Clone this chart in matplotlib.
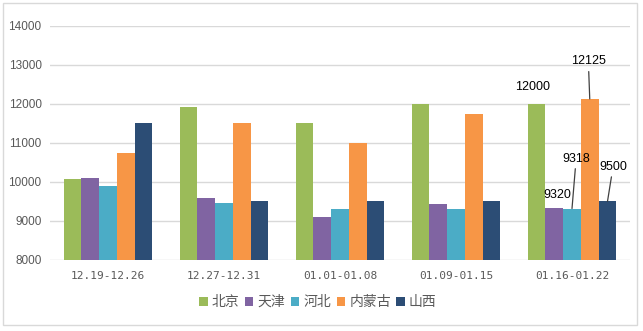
import matplotlib

matplotlib.use("Agg")
import matplotlib.pyplot as plt
import numpy as np
from matplotlib.patches import Patch, Rectangle

plt.rcParams["font.family"] = ["Noto Sans CJK SC", "DejaVu Sans"]

periods = ["12.19-12.26", "12.27-12.31", "01.01-01.08", "01.09-01.15", "01.16-01.22"]
regions = ["北京", "天津", "河北", "内蒙古", "山西"]
beijing = [10070, 11920, 11500, 12000, 12000]
tianjin = [10100, 9580, 9100, 9430, 9320]
hebei = [9900, 9450, 9300, 9310, 9318]
neimenggu = [10750, 11500, 11000, 11750, 12125]
shanxi = [11500, 9500, 9500, 9500, 9500]
series = [beijing, tianjin, hebei, neimenggu, shanxi]
colors = ["#9BBB59", "#8064A2", "#4BACC6", "#F79646", "#2C4D75"]

# labelled values in the last period: (series index, offset in points, leader line)
last_labels = [
    (0, (-3, 12), False),
    (1, (2, 10), False),
    (2, (3, 36), True),
    (3, (-1, 27), True),
    (4, (4, 25), True),
]

fig = plt.figure(figsize=(6.43, 3.31), dpi=100)
fig.patches.append(Rectangle((3 / 643, 6 / 331), 634 / 643, 322 / 331,
                             transform=fig.transFigure, fill=False,
                             edgecolor="#D9D9D9", linewidth=1.0))
ax = fig.add_axes([50 / 643, 1 - 260 / 331, 580 / 643, 234.3 / 331])

x = np.arange(len(periods))
width = 0.153
for i, (vals, col) in enumerate(zip(series, colors)):
    ax.bar(x + (i - 2) * width, vals, width, color=col, zorder=3)

for idx, off, leader in last_labels:
    xb = x[-1] + (idx - 2) * width
    yb = series[idx][-1]
    props = dict(arrowstyle="-", color="#404040", lw=0.9, shrinkA=1, shrinkB=0) if leader else None
    ax.annotate(str(yb), xy=(xb, yb), xytext=off, textcoords="offset points",
                ha="center", va="center", fontsize=9, family="Liberation Sans",
                color="#000000", arrowprops=props, zorder=5)

ax.set_xlim(-0.5, len(periods) - 0.5)
ax.set_ylim(8000, 14000)
ax.set_yticks(range(8000, 14001, 1000))
ax.set_xticks(x)
ax.set_xticklabels(periods, family="DejaVu Sans Mono", fontsize=8, color="#595959")
ax.tick_params(axis="y", labelsize=8.5, colors="#595959", length=0, pad=6)
ax.tick_params(axis="x", length=0, pad=8)
for lbl in ax.get_yticklabels():
    lbl.set_family("Liberation Sans")
ax.grid(axis="y", color="#D9D9D9", linewidth=1.0, zorder=0)
for s in ax.spines.values():
    s.set_visible(False)

handles = [Patch(facecolor=c, edgecolor="none") for c in colors]
fig.legend(handles, regions, loc="center", bbox_to_anchor=(318 / 643, 1 - 302 / 331),
           ncol=5, frameon=False, fontsize=10, handlelength=0.6, handleheight=0.6,
           handletextpad=0.3, columnspacing=0.4, labelcolor="#595959")

fig.savefig("out.png", dpi=100)
